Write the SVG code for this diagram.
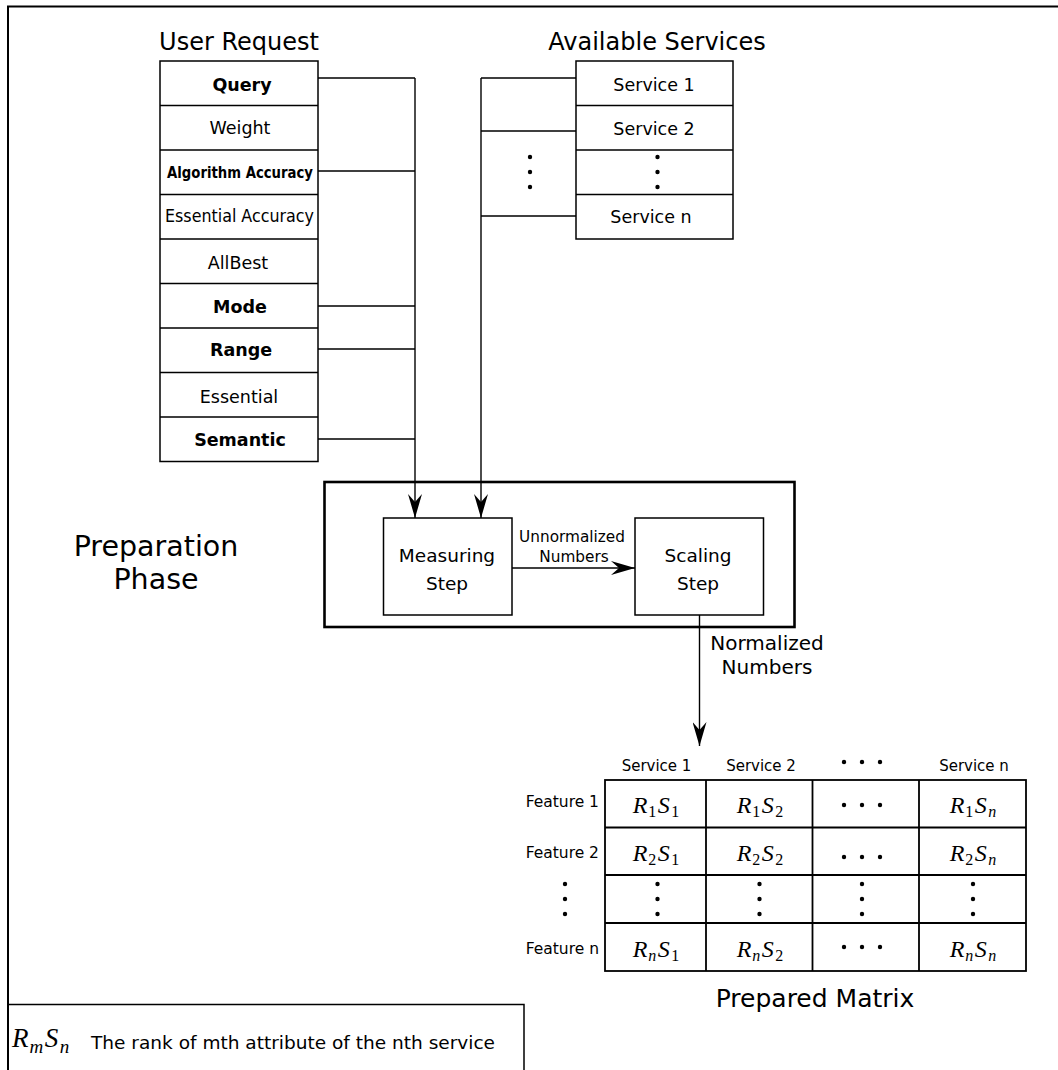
<svg xmlns="http://www.w3.org/2000/svg" width="1058" height="1070" viewBox="0 0 1058 1070">
  <style>
    .t { font-family: "DejaVu Sans", "Liberation Sans", sans-serif; fill: #000; }
    .b { font-weight: bold; }
    .m { font-family: "Liberation Serif", "DejaVu Serif", serif; font-style: italic; fill: #000; }
    .sub { font-style: normal; }
    .box { fill: #fff; stroke: #000; stroke-width: 1.5; }
    .wire { fill: none; stroke: #000; stroke-width: 1.4; }
  </style>
  <defs>
    <marker id="arr" viewBox="0 0 24 14" refX="24" refY="7" markerWidth="24" markerHeight="14" markerUnits="userSpaceOnUse" orient="auto">
      <path d="M0,0 L24,7 L0,14 L8,7 Z" fill="#000"/>
    </marker>
    <g id="vdots">
      <circle cx="0" cy="0" r="2.2"/>
      <circle cx="0" cy="15" r="2.2"/>
      <circle cx="0" cy="30" r="2.2"/>
    </g>
    <g id="hdots">
      <circle cx="-18" cy="0" r="2.2"/>
      <circle cx="0" cy="0" r="2.2"/>
      <circle cx="18" cy="0" r="2.2"/>
    </g>
  </defs>

  <rect width="1058" height="1070" fill="#fff"/>

  <!-- page frame: top and left edges -->
  <path d="M8,1070 L8,6.5 L1058,6.5" fill="none" stroke="#000" stroke-width="2"/>

  <!-- user request attributes -->
  <g id="user-request">
    <text class="t" x="239" y="50" font-size="24" text-anchor="middle">User Request</text>
    <rect class="box" x="160" y="61" width="158" height="400.5"/>
    <path d="M160,105.5 H318 M160,150 H318 M160,194.5 H318 M160,239 H318 M160,283.5 H318 M160,328 H318 M160,372.5 H318 M160,417 H318" stroke="#000" stroke-width="1.5"/>
    <g class="t" font-size="17.5" text-anchor="middle">
      <text class="b" x="242" y="91">Query</text>
      <text x="240" y="134">Weight</text>
      <text class="b" x="240" y="178" font-size="16" textLength="146" lengthAdjust="spacingAndGlyphs">Algorithm Accuracy</text>
      <text x="239.5" y="222" textLength="149" lengthAdjust="spacingAndGlyphs">Essential Accuracy</text>
      <text x="238" y="269">AllBest</text>
      <text class="b" x="240" y="313">Mode</text>
      <text class="b" x="241" y="356">Range</text>
      <text x="239" y="403">Essential</text>
      <text class="b" x="240" y="446">Semantic</text>
    </g>
  </g>

  <!-- available services -->
  <g id="services">
    <text class="t" x="657" y="50" font-size="24" text-anchor="middle">Available Services</text>
    <rect class="box" x="576" y="61" width="157" height="178"/>
    <path d="M576,105.5 H733 M576,150 H733 M576,194.5 H733" stroke="#000" stroke-width="1.5"/>
    <g class="t" font-size="17.5" text-anchor="middle">
      <text x="654" y="91">Service 1</text>
      <text x="654" y="135">Service 2</text>
      <text x="651" y="223">Service n</text>
    </g>
    <use href="#vdots" x="657.5" y="157" transform="translate(0,0)"/>
  </g>

  <!-- preparation phase -->
  <g id="preparation-phase">
    <rect x="324.5" y="482" width="470" height="145" fill="none" stroke="#000" stroke-width="2.6"/>
    <text class="t" x="156" y="556" font-size="28.5" text-anchor="middle">Preparation</text>
    <text class="t" x="156" y="589" font-size="28.5" text-anchor="middle">Phase</text>
  </g>

  <g id="measuring-step">
    <rect class="box" x="383.5" y="518" width="128.5" height="97"/>
    <text class="t" x="447" y="562" font-size="18.5" text-anchor="middle">Measuring</text>
    <text class="t" x="447" y="590" font-size="18.5" text-anchor="middle">Step</text>
  </g>

  <g id="scaling-step">
    <rect class="box" x="635" y="518" width="128.5" height="97"/>
    <text class="t" x="698" y="562" font-size="18.5" text-anchor="middle">Scaling</text>
    <text class="t" x="698" y="590" font-size="18.5" text-anchor="middle">Step</text>
  </g>

  <!-- prepared matrix -->
  <g id="prepared-matrix">
    <g class="t" font-size="15" text-anchor="middle">
      <text x="656.5" y="771">Service 1</text>
      <text x="761" y="771">Service 2</text>
      <text x="974" y="771">Service n</text>
    </g>
    <use href="#hdots" x="862" y="762"/>
    <g class="t" font-size="15.5" text-anchor="end">
      <text x="599" y="807">Feature 1</text>
      <text x="599" y="858">Feature 2</text>
      <text x="599" y="954">Feature n</text>
    </g>
    <use href="#vdots" x="565" y="884"/>
    <rect x="605" y="780" width="421" height="191" fill="#fff" stroke="#000" stroke-width="1.8"/>
    <path d="M706,780 V971 M812.5,780 V971 M919,780 V971 M605,827.5 H1026 M605,875 H1026 M605,923 H1026" stroke="#000" stroke-width="1.8"/>
    <g class="m" font-size="24" text-anchor="middle">
      <text x="656" y="813">R<tspan class="sub" font-size="16" dx="1" dy="4">1</tspan><tspan dx="1.5" dy="-4">S</tspan><tspan class="sub" font-size="16" dx="1.5" dy="4">1</tspan></text>
      <text x="760" y="813">R<tspan class="sub" font-size="16" dx="1" dy="4">1</tspan><tspan dx="1.5" dy="-4">S</tspan><tspan class="sub" font-size="16" dx="1.5" dy="4">2</tspan></text>
      <text x="973" y="813">R<tspan class="sub" font-size="16" dx="1" dy="4">1</tspan><tspan dx="1.5" dy="-4">S</tspan><tspan font-size="16" dx="1.5" dy="4">n</tspan></text>
      <text x="656" y="861">R<tspan class="sub" font-size="16" dx="1" dy="4">2</tspan><tspan dx="1.5" dy="-4">S</tspan><tspan class="sub" font-size="16" dx="1.5" dy="4">1</tspan></text>
      <text x="760" y="861">R<tspan class="sub" font-size="16" dx="1" dy="4">2</tspan><tspan dx="1.5" dy="-4">S</tspan><tspan class="sub" font-size="16" dx="1.5" dy="4">2</tspan></text>
      <text x="973" y="861">R<tspan class="sub" font-size="16" dx="1" dy="4">2</tspan><tspan dx="1.5" dy="-4">S</tspan><tspan font-size="16" dx="1.5" dy="4">n</tspan></text>
      <text x="656" y="957">R<tspan font-size="16" dx="1" dy="4">n</tspan><tspan dx="1.5" dy="-4">S</tspan><tspan class="sub" font-size="16" dx="1.5" dy="4">1</tspan></text>
      <text x="760" y="957">R<tspan font-size="16" dx="1" dy="4">n</tspan><tspan dx="1.5" dy="-4">S</tspan><tspan class="sub" font-size="16" dx="1.5" dy="4">2</tspan></text>
      <text x="973" y="957">R<tspan font-size="16" dx="1" dy="4">n</tspan><tspan dx="1.5" dy="-4">S</tspan><tspan font-size="16" dx="1.5" dy="4">n</tspan></text>
    </g>
    <use href="#hdots" x="862" y="805"/>
    <use href="#hdots" x="862" y="857"/>
    <use href="#hdots" x="862" y="947"/>
    <use href="#vdots" x="657.5" y="884"/>
    <use href="#vdots" x="759.5" y="884"/>
    <use href="#vdots" x="862" y="884"/>
    <use href="#vdots" x="973" y="884"/>
    <text class="t" x="815" y="1007" font-size="25" text-anchor="middle">Prepared Matrix</text>
  </g>

  <!-- legend -->
  <g id="legend">
    <path d="M8,1004.5 H524 V1070" fill="none" stroke="#000" stroke-width="1.5"/>
    <text class="m" x="12" y="1047" font-size="27">R<tspan font-size="19" dx="1" dy="6">m</tspan><tspan dx="1.5" dy="-6">S</tspan><tspan font-size="19" dx="1.5" dy="6">n</tspan></text>
    <text class="t" x="91" y="1049" font-size="18" textLength="404" lengthAdjust="spacingAndGlyphs">The rank of mth attribute of the nth service</text>
  </g>

  <!-- connectors -->
  <g id="connectors">
    <path class="wire" d="M318,78 H415 M318,171 H415 M318,306 H415 M318,349 H415 M318,439 H415"/>
    <path class="wire" d="M415,78 V518" marker-end="url(#arr)"/>
    <path class="wire" d="M576,78 H481 M576,131 H481 M576,216 H481"/>
    <path class="wire" d="M481,78 V518" marker-end="url(#arr)"/>
    <use href="#vdots" x="530" y="157"/>
    <path class="wire" d="M512,568 H635" marker-end="url(#arr)"/>
    <text class="t" x="572" y="542" font-size="15.3" text-anchor="middle">Unnormalized</text>
    <text class="t" x="574" y="562" font-size="15.3" text-anchor="middle">Numbers</text>
    <path class="wire" d="M699.5,615 V746" marker-end="url(#arr)"/>
    <text class="t" x="767" y="650" font-size="20" text-anchor="middle">Normalized</text>
    <text class="t" x="767" y="674" font-size="20" text-anchor="middle">Numbers</text>
  </g>
</svg>
